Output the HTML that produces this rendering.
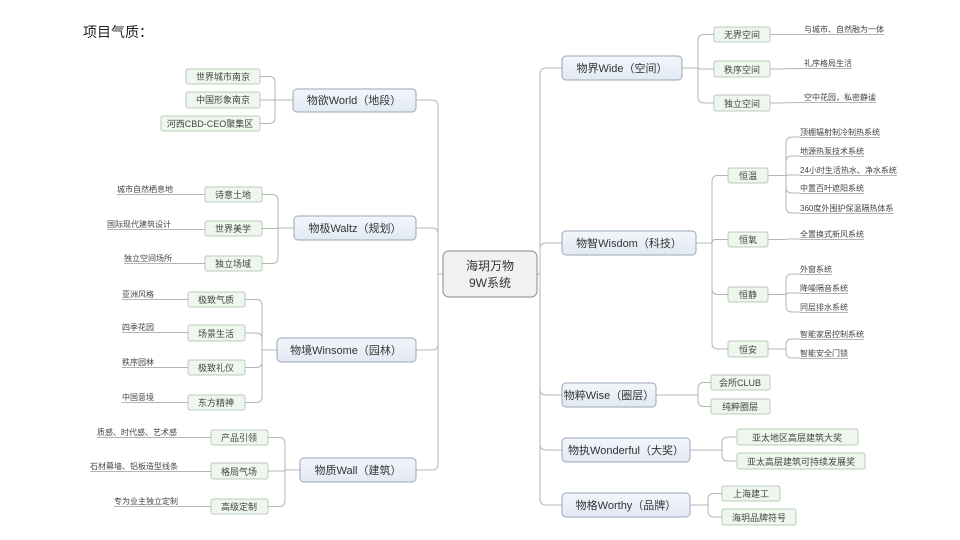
<!DOCTYPE html>
<html><head><meta charset="utf-8"><style>
html,body{margin:0;padding:0;background:#fff;width:960px;height:540px;overflow:hidden}
svg{display:block}
text{font-family:"Liberation Sans","Noto Sans CJK SC",sans-serif;fill:#333}
.m{font-size:11px}
.s{font-size:9px;fill:#444}
.l{font-size:8px;fill:#444}
.mb{fill:url(#g);stroke:#9aa6b8;stroke-width:1}
.sb{fill:#eef6ee;stroke:#bcc9bc;stroke-width:1}
.c{fill:none;stroke:#b4b4b4;stroke-width:1}
</style></head><body>
<svg id="s" width="960" height="540" viewBox="0 0 960 540">
<defs><linearGradient id="g" x1="0" y1="0" x2="0" y2="1"><stop offset="0" stop-color="#f3f6fb"/><stop offset="1" stop-color="#e2e9f4"/></linearGradient></defs>
<g id="conns"></g>
<text x="83" y="37" style="font-size:14px;fill:#222">项目气质：</text>
<!-- center -->
<rect x="443" y="251" width="94" height="46" rx="6" fill="#f1f1f1" stroke="#8a8a8a"/>
<text x="490" y="270" text-anchor="middle" style="font-size:12px">海玥万物</text>
<text x="490" y="287" text-anchor="middle" style="font-size:12px">9W系统</text>
<!-- left mains -->
<rect class="mb" x="293" y="89" width="123" height="23" rx="4"/><text class="m" x="354" y="104" text-anchor="middle">物欲World（地段）</text>
<rect class="mb" x="294" y="216" width="122" height="24" rx="4"/><text class="m" x="355" y="232" text-anchor="middle">物极Waltz（规划）</text>
<rect class="mb" x="277" y="338" width="139" height="24" rx="4"/><text class="m" x="346" y="354" text-anchor="middle">物境Winsome（园林）</text>
<rect class="mb" x="300" y="458" width="116" height="24" rx="4"/><text class="m" x="358" y="474" text-anchor="middle">物质Wall（建筑）</text>
<!-- right mains -->
<rect class="mb" x="562" y="56" width="120" height="24" rx="4"/><text class="m" x="622" y="72" text-anchor="middle">物界Wide（空间）</text>
<rect class="mb" x="562" y="231" width="134" height="24" rx="4"/><text class="m" x="629" y="247" text-anchor="middle">物智Wisdom（科技）</text>
<rect class="mb" x="562" y="383" width="94" height="24" rx="4"/><text class="m" x="609" y="399" text-anchor="middle">物粹Wise（圈层）</text>
<rect class="mb" x="562" y="438" width="128" height="24" rx="4"/><text class="m" x="626" y="454" text-anchor="middle">物执Wonderful（大奖）</text>
<rect class="mb" x="562" y="493" width="128" height="24" rx="4"/><text class="m" x="626" y="509" text-anchor="middle">物格Worthy（品牌）</text>
<!-- left subs -->
<rect class="sb" x="186" y="69" width="74" height="15" rx="2"/><text class="s" x="223" y="80" text-anchor="middle">世界城市南京</text>
<rect class="sb" x="186" y="92" width="74" height="16" rx="2"/><text class="s" x="223" y="103" text-anchor="middle">中国形象南京</text>
<rect class="sb" x="161" y="116" width="99" height="15" rx="2"/><text class="s" x="210" y="127" text-anchor="middle">河西CBD-CEO聚集区</text>
<rect class="sb" x="205" y="187" width="57" height="15" rx="2"/><text class="s" x="233" y="198" text-anchor="middle">诗意土地</text>
<rect class="sb" x="205" y="221" width="57" height="15" rx="2"/><text class="s" x="233" y="232" text-anchor="middle">世界美学</text>
<rect class="sb" x="205" y="256" width="57" height="15" rx="2"/><text class="s" x="233" y="267" text-anchor="middle">独立场域</text>
<rect class="sb" x="188" y="292" width="57" height="15" rx="2"/><text class="s" x="216" y="303" text-anchor="middle">极致气质</text>
<rect class="sb" x="188" y="325" width="57" height="16" rx="2"/><text class="s" x="216" y="337" text-anchor="middle">场景生活</text>
<rect class="sb" x="188" y="360" width="57" height="15" rx="2"/><text class="s" x="216" y="371" text-anchor="middle">极致礼仪</text>
<rect class="sb" x="188" y="395" width="57" height="15" rx="2"/><text class="s" x="216" y="406" text-anchor="middle">东方精神</text>
<rect class="sb" x="211" y="430" width="57" height="15" rx="2"/><text class="s" x="239" y="441" text-anchor="middle">产品引领</text>
<rect class="sb" x="211" y="463" width="57" height="16" rx="2"/><text class="s" x="239" y="475" text-anchor="middle">格局气场</text>
<rect class="sb" x="211" y="499" width="57" height="15" rx="2"/><text class="s" x="239" y="510" text-anchor="middle">高级定制</text>
<!-- left leaves -->
<text class="l" x="117" y="192">城市自然栖息地</text>
<text class="l" x="107" y="227">国际现代建筑设计</text>
<text class="l" x="124" y="261">独立空间场所</text>
<text class="l" x="122" y="297">亚洲风格</text>
<text class="l" x="122" y="330">四季花园</text>
<text class="l" x="122" y="365">秩序园林</text>
<text class="l" x="122" y="400">中国意境</text>
<text class="l" x="97" y="435">质感、时代感、艺术感</text>
<text class="l" x="90" y="469">石材幕墙、铝板造型线条</text>
<text class="l" x="114" y="504">专为业主独立定制</text>
<!-- right subs -->
<rect class="sb" x="714" y="27" width="56" height="15" rx="2"/><text class="s" x="742" y="38" text-anchor="middle">无界空间</text>
<rect class="sb" x="714" y="61" width="56" height="16" rx="2"/><text class="s" x="742" y="73" text-anchor="middle">秩序空间</text>
<rect class="sb" x="714" y="95" width="56" height="16" rx="2"/><text class="s" x="742" y="107" text-anchor="middle">独立空间</text>
<rect class="sb" x="728" y="168" width="40" height="15" rx="2"/><text class="s" x="748" y="179" text-anchor="middle">恒温</text>
<rect class="sb" x="728" y="232" width="40" height="15" rx="2"/><text class="s" x="748" y="243" text-anchor="middle">恒氧</text>
<rect class="sb" x="728" y="287" width="40" height="15" rx="2"/><text class="s" x="748" y="298" text-anchor="middle">恒静</text>
<rect class="sb" x="728" y="341" width="40" height="16" rx="2"/><text class="s" x="748" y="353" text-anchor="middle">恒安</text>
<rect class="sb" x="711" y="375" width="59" height="15" rx="2"/><text class="s" x="740" y="386" text-anchor="middle">会所CLUB</text>
<rect class="sb" x="711" y="399" width="59" height="15" rx="2"/><text class="s" x="740" y="410" text-anchor="middle">纯粹圈层</text>
<rect class="sb" x="737" y="429" width="121" height="16" rx="2"/><text class="s" x="797" y="441" text-anchor="middle">亚太地区高层建筑大奖</text>
<rect class="sb" x="737" y="453" width="128" height="16" rx="2"/><text class="s" x="801" y="465" text-anchor="middle">亚太高层建筑可持续发展奖</text>
<rect class="sb" x="722" y="486" width="58" height="15" rx="2"/><text class="s" x="751" y="497" text-anchor="middle">上海建工</text>
<rect class="sb" x="722" y="509" width="74" height="16" rx="2"/><text class="s" x="759" y="521" text-anchor="middle">海玥品牌符号</text>
<!-- right leaves -->
<text class="l" x="804" y="32">与城市、自然融为一体</text>
<text class="l" x="804" y="66">礼序格局生活</text>
<text class="l" x="804" y="100">空中花园，私密静谧</text>
<text class="l" x="800" y="135">顶棚辐射制冷制热系统</text>
<text class="l" x="800" y="154">地源热泵技术系统</text>
<text class="l" x="800" y="173">24小时生活热水、净水系统</text>
<text class="l" x="800" y="191">中置百叶遮阳系统</text>
<text class="l" x="800" y="211">360度外围护保温隔热体系</text>
<text class="l" x="800" y="237">全置换式新风系统</text>
<text class="l" x="800" y="272">外窗系统</text>
<text class="l" x="800" y="291">降噪隔音系统</text>
<text class="l" x="800" y="310">同层排水系统</text>
<text class="l" x="800" y="337">智能家居控制系统</text>
<text class="l" x="800" y="356">智能安全门锁</text>
</svg>
<script>
var g=document.getElementById('conns'),NS='http://www.w3.org/2000/svg';
function p(d){var e=document.createElementNS(NS,'path');e.setAttribute('d',d);e.setAttribute('class','c');g.appendChild(e);}
function br(x1,y1,bx,x2,ys){p('M'+x1+','+y1+'H'+bx);var s=x2>bx?1:-1;ys.forEach(function(y){var r=Math.min(6,Math.abs(y-y1));if(r<1){p('M'+bx+','+y+'H'+x2);return;}var d=y>y1?1:-1;p('M'+bx+','+y1+'V'+(y-d*r)+'Q'+bx+','+y+' '+(bx+s*r)+','+y+'H'+x2);});}
br(443,274,438,416,[100,228,350,470]);
br(537,274,540,562,[68,243,395,450,505]);
br(293,100,275,260,[76.5,100,123.5]);
br(294,228,278,262,[194.5,228.5,263.5]);
br(277,350,262,245,[299.5,333,367.5,402.5]);
br(300,470,285,268,[437.5,471,506.5]);
br(682,68,698,714,[34.5,69,103]);
br(696,243,712,728,[175.5,239.5,294.5,349]);
br(768,175.5,786,800,[137,156,175,193,213]);
br(768,239.5,786,800,[239]);
br(768,294.5,786,800,[274,293,312]);
br(768,349,786,800,[339,358]);
br(656,395,698,711,[382.5,406.5]);
br(690,450,722,737,[437,461]);
br(690,505,708,722,[493.5,517]);
// left leaf lines
[[205,194.5],[205,228.5],[205,263.5],[188,299.5],[188,333],[188,367.5],[188,402.5],[211,437.5],[211,471],[211,506.5]].forEach(function(a){});
var ls=document.querySelectorAll('text.l');
ls.forEach(function(t){var b=t.getBBox();var y=Math.round(b.y+b.height)+0.5;var x=+t.getAttribute('x');
 if(x<300){var bx=[205,205,205,188,188,188,188,211,211,211];}
 p('M'+b.x+','+y+'H'+(b.x+b.width));});
// connect left leaves to boxes
var L=[[205,192],[205,227],[205,261],[188,297],[188,330],[188,365],[188,400],[211,435],[211,469],[211,504]];
var lt=Array.prototype.filter.call(ls,function(t){return +t.getAttribute('x')<300;});
lt.forEach(function(t,i){var b=t.getBBox();var y=Math.round(b.y+b.height)+0.5;p('M'+(b.x+b.width)+','+y+'H'+L[i][0]);});
// right Wide leaves
[[34.5,35],[69,69],[103,103]].forEach(function(a){});
var rt=Array.prototype.filter.call(ls,function(t){return +t.getAttribute('x')==804;});
var ry=[34.5,69,103];
rt.forEach(function(t,i){var b=t.getBBox();var y=Math.round(b.y+b.height)+0.5;p('M770,'+ry[i]+'C785,'+ry[i]+' 790,'+y+' 804,'+y);});
</script>
</body></html>
